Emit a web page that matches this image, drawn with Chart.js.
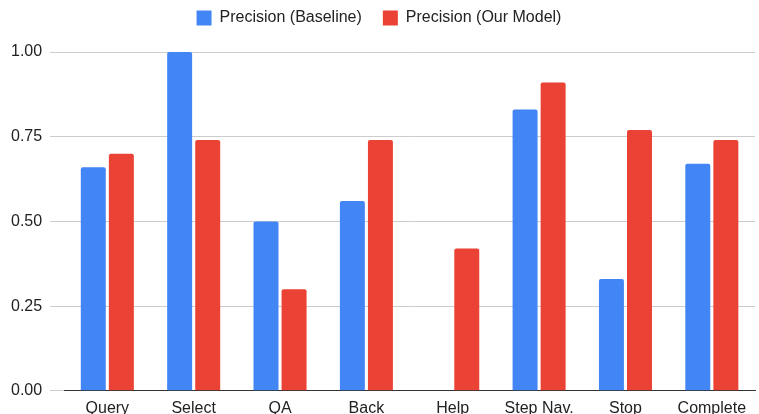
<!DOCTYPE html>
<html>
<head>
<meta charset="utf-8">
<script src="https://cdn.jsdelivr.net/npm/chart.js@4.4.0/dist/chart.umd.min.js"></script>
<style>
  html, body { margin: 0; padding: 0; background: #fff; }
  #wrap { width: 759px; height: 414px; position: relative; }
</style>
</head>
<body>
<div id="wrap"><canvas id="bar-chart"></canvas></div>
<script>
  // data
  const categories = ["Query", "Select", "QA", "Back", "Help", "Step Nav.", "Stop", "Complete"];
  const baseline = [0.66, 1.0, 0.5, 0.56, 0, 0.83, 0.33, 0.67];
  const ourModel = [0.70, 0.74, 0.30, 0.74, 0.42, 0.91, 0.77, 0.74];
  const yTicks = [0, 0.25, 0.5, 0.75, 1.0];

  Chart.defaults.font.family = "'Liberation Sans', Arial, sans-serif";
  Chart.defaults.color = "#222";

  const ctx = document.getElementById("bar-chart");
  const barStyle = {
    borderRadius: { topLeft: 2, topRight: 2 },
    borderSkipped: "start",
    categoryPercentage: 0.65,
    barPercentage: 0.89,
  };

  // push the plot down under the legend
  const legendGap = {
    id: "legendGap",
    beforeInit(chart) {
      const fit = chart.legend.fit;
      chart.legend.fit = function () {
        fit.bind(chart.legend)();
        this.height += 16;
      };
    },
  };

  new Chart(ctx, {
    type: "bar",
    data: {
      labels: categories,
      datasets: [
        Object.assign({ label: "Precision (Baseline)", data: baseline, backgroundColor: "#4285F4" }, barStyle),
        Object.assign({ label: "Precision (Our Model)", data: ourModel, backgroundColor: "#EA4335" }, barStyle),
      ],
    },
    plugins: [legendGap],
    options: {
      responsive: true,
      maintainAspectRatio: false,
      animation: false,
      layout: { padding: { left: 3, right: 4, top: -11, bottom: -4 } },
      scales: {
        x: {
          grid: { display: false },
          border: { display: true, color: "#333", width: 1 },
          ticks: { font: { size: 16 }, padding: 0, color: "#222", maxRotation: 0 },
        },
        y: {
          min: 0,
          max: 1,
          afterBuildTicks: (axis) => {
            axis.ticks = yTicks.map((v) => ({ value: v }));
          },
          grid: { color: "#ccc", tickLength: 14, tickColor: "#ccc" },
          border: { display: false },
          ticks: {
            font: { size: 16 },
            padding: 8,
            color: "#222",
            callback: (v) => Number(v).toFixed(2),
          },
        },
      },
      plugins: {
        legend: {
          position: "top",
          labels: {
            boxWidth: 15,
            boxHeight: 15,
            padding: 21,
            font: { size: 16 },
            color: "#222",
          },
        },
        tooltip: { enabled: false },
      },
    },
  });
</script>
</body>
</html>
